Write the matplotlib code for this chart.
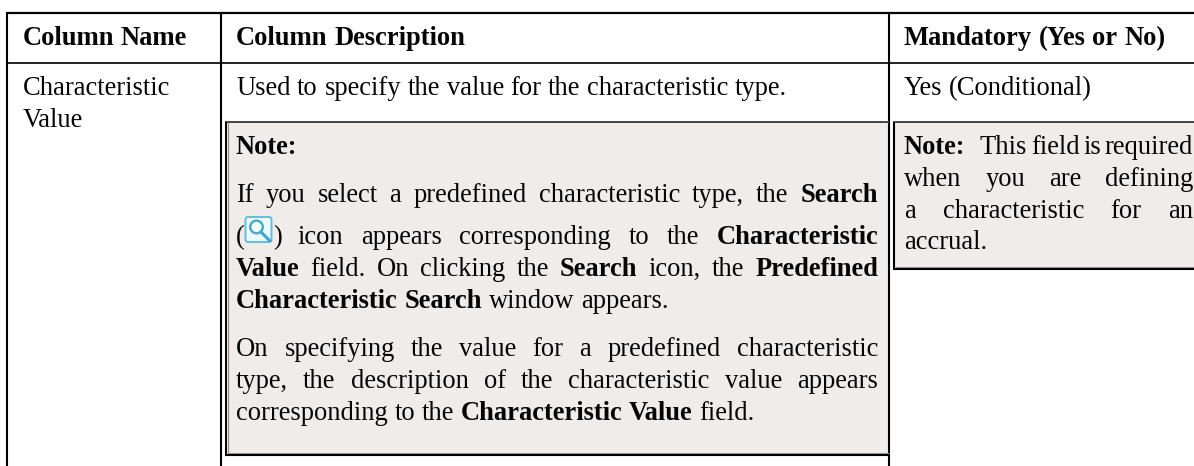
import matplotlib
matplotlib.use("Agg")
import matplotlib.pyplot as plt
from matplotlib.patches import Rectangle, FancyBboxPatch, Circle

plt.rcParams["font.family"] = ["Liberation Serif", "DejaVu Serif"]

# table text, a leading * marks a bold word
headers = ["*Column *Name", "*Column *Description", "*Mandatory *(Yes *or *No)"]
name_lines = ["Characteristic", "Value"]
desc_line = "Used to specify the value for the characteristic type."
yes_line = "Yes (Conditional)"

note_title = "*Note:"
note_para1 = [
    "If you select a predefined characteristic type, the *Search",
    "icon appears corresponding to the *Characteristic",
    "*Value field. On clicking the *Search icon, the *Predefined",
    "*Characteristic *Search window appears.",
]
note_para2 = [
    "On specifying the value for a predefined characteristic",
    "type, the description of the characteristic value appears",
    "corresponding to the *Characteristic *Value field.",
]
side_note = [
    "This field is required",
    "when you are defining",
    "a characteristic for an",
    "accrual.",
]

FS = 19.1
BLACK = "#000000"
NOTE_BG = "#f0ecea"

fig = plt.figure(figsize=(11.94, 4.66), dpi=100, facecolor="white")
ax = fig.add_axes([0, 0, 1, 1])
ax.set_xlim(0, 1194)
ax.set_ylim(466, 0)
ax.axis("off")
renderer = fig.canvas.get_renderer()


def word_width(word, bold):
    t = ax.text(0, 0, word, fontsize=FS, fontweight="bold" if bold else "normal")
    w = t.get_window_extent(renderer).width
    t.remove()
    return w


def draw_line(line, x, y, right=None):
    # right given: spread the words so the line fills up to it
    words = []
    for w in line.split(" "):
        if w.startswith("*"):
            words.append((w[1:], True))
        else:
            words.append((w, False))
    widths = [word_width(w, b) for w, b in words]
    gap = FS * 100 / 72 * 0.25
    if right is not None and len(words) > 1:
        gap = (right - x - sum(widths)) / (len(words) - 1)
    for (w, b), wd in zip(words, widths):
        ax.text(x, y, w, fontsize=FS, color="#050505", va="baseline", ha="left",
                fontweight="bold" if b else "normal")
        x += wd + gap


def hline(y, x0, x1, color=BLACK, lw=1.5):
    ax.plot([x0, x1], [y, y], color=color, lw=lw, solid_capstyle="butt")


def vline(x, y0, y1, color=BLACK, lw=1.5):
    ax.plot([x, x], [y0, y1], color=color, lw=lw, solid_capstyle="butt")


# note boxes
ax.add_patch(Rectangle((226, 122), 662, 332, fc=NOTE_BG, ec="none"))
ax.add_patch(Rectangle((894, 122), 300, 146.5, fc=NOTE_BG, ec="none"))

# table rules
hline(13, 6, 1194, lw=1.6)
hline(63, 6, 1194, color="#222222", lw=1.4)
vline(7, 12, 466)
vline(221, 12, 466)
vline(889, 12, 466)

# first note box border
hline(122, 225, 889, color="#444444", lw=1.4)
vline(225.8, 122, 455, lw=1.4)
vline(227.8, 122, 453, color="#8a8a8a", lw=0.8)
hline(452.8, 228, 889, color="#999999", lw=0.8)
hline(454.8, 225, 889, lw=1.5)

# second note box border
hline(122, 893, 1194, color="#444444", lw=1.4)
vline(894, 122, 269, lw=1.5)
hline(266.8, 895, 1194, color="#999999", lw=0.8)
hline(268.6, 893, 1194, lw=1.5)

# header row
draw_line(headers[0], 22.5, 45)
draw_line(headers[1], 236, 45)
draw_line(headers[2], 904, 45)

# first column
draw_line(name_lines[0], 22.5, 95)
draw_line(name_lines[1], 22.5, 127)

# description
draw_line(desc_line, 236, 95)
draw_line(note_title, 236, 154)
draw_line(note_para1[0], 236, 202, right=878)
draw_line(note_para1[1], 297.7, 244, right=878)
draw_line(note_para1[2], 236, 276, right=878)
draw_line(note_para1[3], 236, 308)
draw_line(note_para2[0], 236, 356, right=878)
draw_line(note_para2[1], 236, 388, right=878)
draw_line(note_para2[2], 236, 420)

# search icon between its brackets
draw_line("(", 236, 244)
draw_line(")", 273.5, 244)
ax.add_patch(FancyBboxPatch((245.5, 217), 26, 25, boxstyle="round,pad=0,rounding_size=2.5",
                            fc="#eef8fc", ec="#62bfdc", lw=1.4))
ax.add_patch(Circle((256.5, 227), 6.3, fc="#f7fcfe", ec="#3fa9cf", lw=1.7))
ax.plot([261, 270], [232, 241], color="#3fa9cf", lw=2.2, solid_capstyle="round")

# mandatory column
draw_line(yes_line, 904, 95)
draw_line("*Note:", 904, 154)
draw_line(side_note[0], 980, 154, right=1193)
draw_line(side_note[1], 904, 186, right=1193.5)
draw_line(side_note[2], 904, 218, right=1193.5)
draw_line(side_note[3], 904, 249)

fig.savefig("out.png", dpi=100, facecolor="white")
